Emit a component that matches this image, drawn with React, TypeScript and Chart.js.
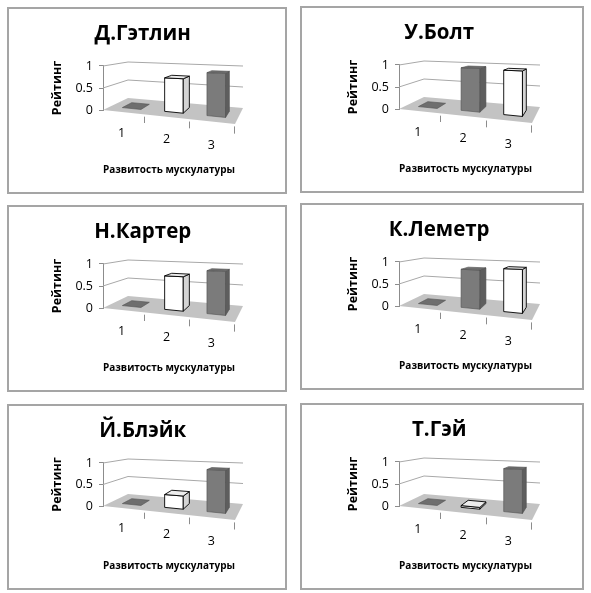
import React, { useEffect, useRef } from 'react';
import { Chart, registerables } from 'chart.js';

Chart.register(...registerables);

const categories = ['1', '2', '3'];
const athletes = ['Д.Гэтлин', 'У.Болт', 'Н.Картер', 'К.Леметр', 'Й.Блэйк', 'Т.Гэй'];
const gatlinRatings = [0, 0.75, 0.9];
const boltRatings = [0, 0.95, 0.93];
const carterRatings = [0, 0.75, 0.9];
const lemaitreRatings = [0, 0.85, 0.9];
const blakeRatings = [0, 0.3, 0.9];
const gayRatings = [0, 0.05, 0.9];
const whiteBarIndex = [1, 2, 1, 2, 1, 1];
const ratingTicks = [0, 0.5, 1];
const yAxisTitle = 'Рейтинг';
const xAxisTitle = 'Развитость мускулатуры';

const allRatings = [gatlinRatings, boltRatings, carterRatings, lemaitreRatings, blakeRatings, gayRatings];

const FONT = "'Open Sans', 'Noto Sans', sans-serif";

type Pt = [number, number];
const lerp = (p: Pt, q: Pt, t: number): Pt => [p[0] + (q[0] - p[0]) * t, p[1] + (q[1] - p[1]) * t];

function makeProj(a: { left: number; right: number; top: number; bottom: number }) {
  const L = a.left, R = a.right, T = a.top, B = a.bottom;
  const FLB: Pt = [L, B], FRB: Pt = [R, B + 14], FLT: Pt = [L, T], FRT: Pt = [R, T + 4];
  const BLB: Pt = [L + 25, B - 12], BRB: Pt = [R + 8, B - 2], BLT: Pt = [L + 25, T - 4], BRT: Pt = [R + 8, T];
  return (u: number, v: number, w: number): Pt => {
    const fb = lerp(FLB, FRB, u), ft = lerp(FLT, FRT, u);
    const bb = lerp(BLB, BRB, u), bt = lerp(BLT, BRT, u);
    const f = lerp(fb, ft, v), b = lerp(bb, bt, v);
    return lerp(f, b, w);
  };
}

function poly(ctx: CanvasRenderingContext2D, pts: Pt[], fill: string | null, stroke: string | null, lw = 1) {
  ctx.beginPath();
  ctx.moveTo(pts[0][0], pts[0][1]);
  for (let i = 1; i < pts.length; i++) ctx.lineTo(pts[i][0], pts[i][1]);
  ctx.closePath();
  if (fill) { ctx.fillStyle = fill; ctx.fill(); }
  if (stroke) { ctx.strokeStyle = stroke; ctx.lineWidth = lw; ctx.stroke(); }
}

const threeDPlugin = {
  id: 'threeD',
  beforeDatasetsDraw(chart: any) {
    const { ctx, chartArea: a, scales } = chart;
    const proj = makeProj(a);
    const yS = scales.y;
    ctx.save();
    poly(ctx, [proj(0, 0, 0), proj(1, 0, 0), proj(1, 0, 1), proj(0, 0, 1)], '#c3c3c3', null);
    ctx.strokeStyle = '#a8a8a8';
    ctx.lineWidth = 1;
    yS.ticks.forEach((t: any) => {
      const v = (a.bottom - yS.getPixelForValue(t.value)) / (a.bottom - a.top);
      if (v <= 0) return;
      const p0 = proj(0, v, 0), p1 = proj(0, v, 1), p2 = proj(1, v, 1);
      ctx.beginPath();
      ctx.moveTo(p0[0], p0[1]);
      ctx.lineTo(p1[0], p1[1]);
      ctx.lineTo(p2[0], p2[1]);
      ctx.stroke();
    });
    ctx.restore();
  },
  afterDatasetsDraw(chart: any, _args: any, opts: any) {
    const { ctx, chartArea: a } = chart;
    const proj = makeProj(a);
    const W = a.right - a.left, H = a.bottom - a.top;
    const meta = chart.getDatasetMeta(0);
    const w0 = 0.3, w1 = 0.7;
    ctx.save();
    meta.data.forEach((el: any, i: number) => {
      const u0 = (el.x - el.width / 2 - a.left) / W;
      const u1 = (el.x + el.width / 2 - a.left) / W;
      const v0 = (a.bottom - el.base) / H;
      const v1 = (a.bottom - el.y) / H;
      const white = i === opts.whiteIndex;
      const c = white
        ? { front: '#ffffff', side: '#d4d4d4', top: '#ececec', line: '#000000', lw: 0.9 }
        : { front: '#7b7b7b', side: '#5e5e5e', top: '#6e6e6e', line: '#505050', lw: 0.6 };
      if (v1 > v0) {
        poly(ctx, [proj(u0, v0, w0), proj(u1, v0, w0), proj(u1, v1, w0), proj(u0, v1, w0)], c.front, c.line, c.lw);
        poly(ctx, [proj(u1, v0, w0), proj(u1, v0, w1), proj(u1, v1, w1), proj(u1, v1, w0)], c.side, c.line, c.lw);
      }
      poly(ctx, [proj(u0, v1, w0), proj(u1, v1, w0), proj(u1, v1, w1), proj(u0, v1, w1)], c.top, c.line, c.lw);
    });
    ctx.restore();
  },
  afterDraw(chart: any) {
    const { ctx, chartArea: a, scales } = chart;
    const proj = makeProj(a);
    const xS = scales.x;
    const W = a.right - a.left;
    const n = chart.data.labels.length;
    const catW = W / n;
    ctx.save();
    ctx.strokeStyle = '#8c8c8c';
    ctx.lineWidth = 1;
    for (let i = 0; i < n; i++) {
      const ub = (xS.getPixelForValue(i) + catW / 2 - a.left) / W;
      const p0 = proj(ub, 0, -0.15), p1 = proj(ub, -0.13, -0.15);
      ctx.beginPath();
      ctx.moveTo(Math.round(p0[0]) + 0.5, p0[1]);
      ctx.lineTo(Math.round(p1[0]) + 0.5, p1[1]);
      ctx.stroke();
    }
    ctx.fillStyle = '#000';
    ctx.font = `12.5px ${FONT}`;
    ctx.textAlign = 'center';
    ctx.textBaseline = 'middle';
    chart.data.labels.forEach((lab: string, i: number) => {
      const uc = (xS.getPixelForValue(i) - a.left) / W;
      const p = proj(uc, -0.4, -0.15);
      ctx.fillText(lab, p[0], p[1]);
    });
    ctx.restore();
  },
};

function Panel({ idx, x, y, w, h }: { idx: number; x: number; y: number; w: number; h: number }) {
  const ref = useRef<HTMLCanvasElement | null>(null);
  const cw = w - 4, ch = h - 4;
  useEffect(() => {
    if (!ref.current) return;
    const extra = cw - 276;
    const chart = new Chart(ref.current, {
      type: 'bar',
      data: {
        labels: categories,
        datasets: [
          {
            data: allRatings[idx],
            backgroundColor: 'rgba(0,0,0,0)',
            borderWidth: 0,
            barPercentage: 0.44,
            categoryPercentage: 1,
          },
        ],
      },
      options: {
        responsive: false,
        animation: false,
        devicePixelRatio: 1,
        layout: { padding: { left: 41.4 + extra * 0.75, right: 50, top: 2.4, bottom: 16 } },
        plugins: {
          legend: { display: false },
          tooltip: { enabled: false },
          title: {
            display: true,
            text: athletes[idx],
            color: '#000',
            font: { family: FONT, size: 20.5, weight: 'bold' },
            padding: { top: 10.5, bottom: 19.5 },
          },
          threeD: { whiteIndex: whiteBarIndex[idx] },
        } as any,
        scales: {
          x: {
            ticks: { display: false },
            grid: { display: false, drawTicks: false },
            border: { display: false },
            title: {
              display: true,
              text: xAxisTitle,
              color: '#000',
              font: { family: FONT, size: 11, weight: 'bold' },
              padding: 0,
            },
            afterFit: (s: any) => { s.height = 66; },
          },
          y: {
            min: 0,
            max: 1,
            afterBuildTicks: (s: any) => { s.ticks = ratingTicks.map((v) => ({ value: v })); },
            ticks: {
              color: '#000',
              font: { family: FONT, size: 12.5 },
              padding: 6,
              callback: (v: any) => String(v),
            },
            grid: { drawOnChartArea: false, drawTicks: true, tickLength: 4, color: '#8c8c8c' },
            border: { display: true, color: '#8c8c8c' },
            title: {
              display: true,
              text: yAxisTitle,
              color: '#000',
              font: { family: FONT, size: 12.5, weight: 'bold' },
              padding: 0,
            },
            afterFit: (s: any) => { s.width = 52.6; },
          },
        },
      },
      plugins: [threeDPlugin],
    });
    return () => chart.destroy();
  }, [idx, cw, ch]);
  return (
    <div
      style={{
        position: 'absolute',
        left: x,
        top: y,
        width: cw,
        height: ch,
        border: '2px solid #a5a5a5',
        background: '#fff',
      }}
    >
      <canvas ref={ref} width={cw} height={ch} style={{ display: 'block', width: cw, height: ch }} />
    </div>
  );
}

const panelRects = [
  { x: 7, y: 7, w: 280, h: 187 },
  { x: 300, y: 6, w: 284, h: 187 },
  { x: 7, y: 205, w: 280, h: 187 },
  { x: 300, y: 203, w: 284, h: 187 },
  { x: 7, y: 404, w: 280, h: 186 },
  { x: 300, y: 403, w: 284, h: 187 },
];

export default function App() {
  return (
    <div style={{ position: 'absolute', left: 0, top: 0, width: 591, height: 593, background: '#fff' }}>
      {panelRects.map((r, i) => (
        <Panel key={i} idx={i} x={r.x} y={r.y} w={r.w} h={r.h} />
      ))}
    </div>
  );
}
